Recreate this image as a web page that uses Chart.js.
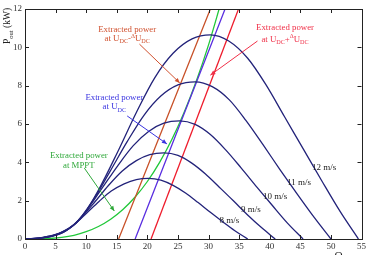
<!DOCTYPE html>
<html>
<head>
<meta charset="utf-8">
<script src="https://cdn.jsdelivr.net/npm/chart.js@4.4.1/dist/chart.umd.min.js"></script>
<style>
  html, body { margin: 0; padding: 0; background: #fff; }
  #wrap { width: 368px; height: 255px; position: relative; }
</style>
</head>
<body>
<div id="wrap"><canvas id="grafico"></canvas></div>
<script>
// curvas de potencia da turbina (Omega em rad/s, P em kW)
const omega12 = [0, 3, 6.1, 9.1, 12.1, 15.2, 18.2, 21.2, 24.2, 27.3, 30.3, 33.3, 36.4, 39.4, 42.4, 45.5, 48.5, 51.5, 54.5];
const power12 = [0, 0.09, 0.37, 1.07, 2.61, 4.58, 6.6, 8.41, 9.69, 10.44, 10.65, 10.33, 9.43, 8.04, 6.39, 4.69, 3.04, 1.44, 0];
const omega11 = [0, 2.8, 5.6, 8.3, 11.1, 13.9, 16.7, 19.5, 22.2, 25, 27.8, 30.6, 33.4, 36.1, 38.9, 41.7, 44.5, 47.3, 50];
const power11 = [0, 0.07, 0.29, 0.82, 2.01, 3.53, 5.08, 6.48, 7.46, 8.04, 8.2, 7.95, 7.26, 6.19, 4.92, 3.61, 2.34, 1.11, 0];
const omega10 = [0, 2.5, 5.05, 7.6, 10.1, 12.6, 15.15, 17.7, 20.2, 22.7, 25.25, 27.8, 30.3, 32.8, 35.35, 37.9, 40.4, 42.9, 45.45];
const power10 = [0, 0.05, 0.22, 0.62, 1.51, 2.65, 3.82, 4.87, 5.61, 6.04, 6.16, 5.98, 5.45, 4.65, 3.7, 2.71, 1.76, 0.83, 0];
const omega9 = [0, 2.3, 4.5, 6.8, 9.1, 11.4, 13.6, 15.9, 18.2, 20.4, 22.7, 25, 27.2, 29.5, 31.8, 34.1, 36.3, 38.6, 40.9];
const power9 = [0, 0.04, 0.16, 0.45, 1.1, 1.93, 2.78, 3.55, 4.09, 4.4, 4.49, 4.36, 3.97, 3.39, 2.69, 1.98, 1.28, 0.61, 0];
const omega8 = [0, 2, 4, 6.1, 8.1, 10.1, 12.1, 14.1, 16.2, 18.2, 20.2, 22.2, 24.2, 26.3, 28.3, 30.3, 32.3, 34.3, 36.4];
const power8 = [0, 0.03, 0.11, 0.32, 0.77, 1.36, 1.96, 2.5, 2.88, 3.1, 3.16, 3.07, 2.8, 2.39, 1.9, 1.39, 0.9, 0.43, 0];

// potencia extraida no MPPT
const omegaMppt = [0, 2, 4, 6, 8, 10, 12, 14, 16, 18, 20, 22, 24, 26, 28, 30, 32];
const powerMppt = [0, 0.003, 0.025, 0.08, 0.19, 0.38, 0.65, 1.03, 1.54, 2.19, 3.0, 4.0, 5.19, 6.6, 8.24, 10.13, 12.3];

// retas de potencia extraida com a tensao do barramento
const omegaUdcMenos = [15.3, 30.3];
const omegaUdc = [18.0, 32.7];
const omegaUdcMais = [20.6, 34.9];
const powerRetas = [0, 12];

const velocidades = ['12 m/s', '11 m/s', '10 m/s', '9 m/s', '8 m/s'];
const xTicks = [0, 5, 10, 15, 20, 25, 30, 35, 40, 45, 50, 55];
const yTicks = [0, 2, 4, 6, 8, 10, 12];

const azulEscuro = '#23237a';
const SERIF = '"Liberation Serif", "DejaVu Serif", serif';

function pontos(xs, ys) {
    return xs.map((x, i) => ({ x: x, y: ys[i] }));
}

function curva(xs, ys, cor, label) {
    return {
        label: label,
        data: pontos(xs, ys),
        borderColor: cor,
        borderWidth: 1.3,
        pointRadius: 0,
        fill: false,
        cubicInterpolationMode: 'monotone'
    };
}

// texto com subscrito/sobrescrito
function textoRico(ctx, partes, x, y, tam, cor) {
    let largura = 0;
    partes.forEach(p => {
        const t = p.sub || p.sup ? tam * 0.7 : tam;
        ctx.font = `${t}px ${SERIF}`;
        largura += ctx.measureText(p.t).width;
    });
    let cx = x - largura / 2;
    ctx.fillStyle = cor;
    ctx.textAlign = 'left';
    ctx.textBaseline = 'alphabetic';
    partes.forEach(p => {
        const t = p.sub || p.sup ? tam * 0.7 : tam;
        ctx.font = `${t}px ${SERIF}`;
        let dy = 0;
        if (p.sub) dy = tam * 0.3;
        if (p.sup) dy = -tam * 0.35;
        ctx.fillText(p.t, cx, y + dy);
        cx += ctx.measureText(p.t).width;
    });
}

function seta(ctx, x1, y1, x2, y2, cor) {
    ctx.strokeStyle = cor;
    ctx.fillStyle = cor;
    ctx.lineWidth = 1;
    ctx.beginPath();
    ctx.moveTo(x1, y1);
    ctx.lineTo(x2, y2);
    ctx.stroke();
    const ang = Math.atan2(y2 - y1, x2 - x1);
    const L = 5, W = 2.2;
    ctx.beginPath();
    ctx.moveTo(x2, y2);
    ctx.lineTo(x2 - L * Math.cos(ang) + W * Math.sin(ang), y2 - L * Math.sin(ang) - W * Math.cos(ang));
    ctx.lineTo(x2 - L * Math.cos(ang) - W * Math.sin(ang), y2 - L * Math.sin(ang) + W * Math.cos(ang));
    ctx.closePath();
    ctx.fill();
}

// anotacoes em coordenadas de dados
const notas = [
    { cor: '#d0502e', linhas: [[{ t: 'Extracted power' }], [{ t: 'at U' }, { t: 'DC', sub: true }, { t: '-' }, { t: 'Δ', sup: true }, { t: 'U' }, { t: 'DC', sub: true }]],
      pos: [16.7, 10.95, 10.5], seta: [18.7, 10.17, 25.3, 8.14] },
    { cor: '#f03048', linhas: [[{ t: 'Extracted power' }], [{ t: 'at U' }, { t: 'DC', sub: true }, { t: '+' }, { t: 'Δ', sup: true }, { t: 'U' }, { t: 'DC', sub: true }]],
      pos: [42.5, 11.06, 10.46], seta: [38.0, 10.33, 30.3, 8.55] },
    { cor: '#3a34e0', linhas: [[{ t: 'Extracted power' }], [{ t: 'at U' }, { t: 'DC', sub: true }]],
      pos: [14.6, 7.42, 6.94], seta: [16.7, 6.42, 23.2, 4.96] },
    { cor: '#2fa83a', linhas: [[{ t: 'Extracted power' }], [{ t: 'at MPPT' }]],
      pos: [8.8, 4.38, 3.86], seta: [9.7, 3.7, 14.6, 1.46] }
];
const posVelocidades = [[48.9, 3.77], [44.8, 2.99], [40.9, 2.26], [36.9, 1.56], [33.4, 0.99]];

const pluginEixos = {
    id: 'eixos',
    afterDatasetsDraw(chart) {
        const ctx = chart.ctx;
        const a = chart.chartArea;
        const sx = chart.scales.x, sy = chart.scales.y;
        ctx.save();
        ctx.strokeStyle = '#222';
        ctx.lineWidth = 1;
        ctx.strokeRect(Math.round(a.left) + 0.5, Math.round(a.top) + 0.5, Math.round(a.right - a.left), Math.round(a.bottom - a.top));
        ctx.beginPath();
        xTicks.forEach(v => {
            const px = Math.round(sx.getPixelForValue(v)) + 0.5;
            ctx.moveTo(px, a.bottom); ctx.lineTo(px, a.bottom - 4);
            ctx.moveTo(px, a.top); ctx.lineTo(px, a.top + 4);
        });
        yTicks.forEach(v => {
            const py = Math.round(sy.getPixelForValue(v)) + 0.5;
            ctx.moveTo(a.left, py); ctx.lineTo(a.left + 4, py);
            ctx.moveTo(a.right, py); ctx.lineTo(a.right - 4, py);
        });
        ctx.stroke();

        // rotulos das velocidades de vento
        velocidades.forEach((v, i) => {
            textoRico(ctx, [{ t: v }], sx.getPixelForValue(posVelocidades[i][0]), sy.getPixelForValue(posVelocidades[i][1]) + 3, 9, '#222');
        });

        notas.forEach(n => {
            const cx = sx.getPixelForValue(n.pos[0]);
            textoRico(ctx, n.linhas[0], cx, sy.getPixelForValue(n.pos[1]) + 3, 8.8, n.cor);
            textoRico(ctx, n.linhas[1], cx, sy.getPixelForValue(n.pos[2]) + 3, 8.8, n.cor);
            seta(ctx, sx.getPixelForValue(n.seta[0]), sy.getPixelForValue(n.seta[1]),
                sx.getPixelForValue(n.seta[2]), sy.getPixelForValue(n.seta[3]), n.cor);
        });

        // titulo do eixo y (rotacionado)
        ctx.save();
        ctx.translate(7, 26);
        ctx.rotate(-Math.PI / 2);
        textoRico(ctx, [{ t: 'P' }, { t: 'out', sub: true }, { t: ' (kW)' }], 0, 3, 9.5, '#222');
        ctx.restore();

        // titulo do eixo x (cortado na borda)
        textoRico(ctx, [{ t: 'Ω' }, { t: 'r', sub: true }, { t: '(rad/s)', sub: true }], 350, 259, 11, '#222');
        ctx.restore();
    }
};

const ctx = document.getElementById('grafico').getContext('2d');
new Chart(ctx, {
    type: 'line',
    data: {
        datasets: [
            curva(omega12, power12, azulEscuro, velocidades[0]),
            curva(omega11, power11, azulEscuro, velocidades[1]),
            curva(omega10, power10, azulEscuro, velocidades[2]),
            curva(omega9, power9, azulEscuro, velocidades[3]),
            curva(omega8, power8, azulEscuro, velocidades[4]),
            curva(omegaUdcMenos, powerRetas, '#c8522a', 'Udc-dUdc'),
            curva(omegaUdcMais, powerRetas, '#ee1c2c', 'Udc+dUdc'),
            curva(omegaUdc, powerRetas, '#5a2fe0', 'Udc'),
            curva(omegaMppt, powerMppt, '#22c83a', 'MPPT')
        ]
    },
    options: {
        responsive: true,
        maintainAspectRatio: false,
        animation: false,
        layout: { padding: { top: 9, right: 4, left: 0, bottom: 0 } },
        plugins: { legend: { display: false }, tooltip: { enabled: false } },
        scales: {
            x: {
                type: 'linear', min: 0, max: 55,
                grid: { display: false, drawTicks: false, tickLength: 0 },
                border: { display: false },
                afterBuildTicks: s => { s.ticks = xTicks.map(v => ({ value: v })); },
                afterFit: s => { s.height = 16; },
                ticks: { color: '#333', font: { family: SERIF, size: 9 }, padding: 2, maxRotation: 0, autoSkip: false }
            },
            y: {
                type: 'linear', min: 0, max: 12,
                grid: { display: false, drawTicks: false, tickLength: 0 },
                border: { display: false },
                afterBuildTicks: s => { s.ticks = yTicks.map(v => ({ value: v })); },
                afterFit: s => { s.width = 25; },
                ticks: { color: '#333', font: { family: SERIF, size: 9 }, padding: 3, autoSkip: false }
            }
        }
    },
    plugins: [pluginEixos]
});
</script>
</body>
</html>
